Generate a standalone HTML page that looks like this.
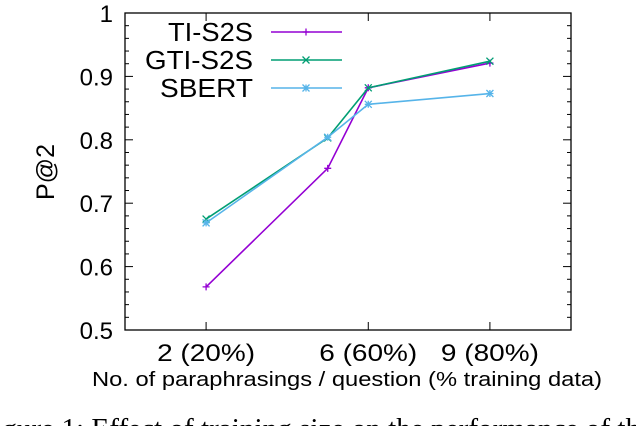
<!DOCTYPE html>
<html><head><meta charset="utf-8"><style>
body{margin:0;background:#fff;width:636px;height:426px;overflow:hidden}
svg{font-family:"Liberation Sans",sans-serif}
</style></head><body>
<svg id="chart" width="636" height="426">
<g id="grid"></g>
<rect x="125" y="13" width="446" height="317" fill="none" stroke="#000" stroke-width="1.3"/>
<text transform="translate(54,172) rotate(-90)" text-anchor="middle" font-size="25" textLength="56" lengthAdjust="spacingAndGlyphs">P@2</text>
<text x="92" y="386" font-size="20" textLength="510" lengthAdjust="spacingAndGlyphs">No. of paraphrasings / question (% training data)</text>
<text x="-22" y="438" font-size="29" font-family="Liberation Serif,serif" textLength="675" lengthAdjust="spacingAndGlyphs">Figure 1:  Effect of training size on the performance of the</text>
<g id="legend"></g>
<g id="series"></g>
</svg>
<script>
const xValues=[2,5,6,9];
const xTickValues=[2,6,9];
const xTickLabels=["2 (20%)","6 (60%)","9 (80%)"];
const yTickValues=[0.5,0.6,0.7,0.8,0.9,1];
const yTickLabels=["0.5","0.6","0.7","0.8","0.9","1"];
const seriesNames=["TI-S2S","GTI-S2S","SBERT"];
const tiS2S=[0.568,0.755,0.882,0.921];
const gtiS2S=[0.675,0.803,0.882,0.924];
const sbert=[0.669,0.804,0.856,0.873];
const NS="http://www.w3.org/2000/svg";
const L=125,R=571,T=13,B=330;
const xs=v=>L+(v-0)/(11-0)*(R-L);
const ys=v=>B-(v-0.5)/(0.5)*(B-T);
function mk(t,a,p){const e=document.createElementNS(NS,t);for(const k in a)e.setAttribute(k,a[k]);(p||document.getElementById('chart')).appendChild(e);return e;}
const grid=document.getElementById('grid');
for(let i=0;i<=25;i++){const v=0.5+i*0.02;const y=ys(v);const major=Math.abs((v*10)-Math.round(v*10))<1e-6;const len=major?8:4;
 const a=mk('line',{x1:L,x2:L+len,y1:y,y2:y,stroke:'#000'},grid);
 const b=mk('line',{x1:R,x2:R-len,y1:y,y2:y,stroke:'#000'},grid);}
yTickValues.forEach((v,i)=>{const t=mk('text',{x:113,y:ys(v)+9,'text-anchor':'end','font-size':24},grid);t.textContent=yTickLabels[i];});
xTickValues.forEach((v,i)=>{const x=xs(v);
 const a=mk('line',{x1:x,x2:x,y1:B,y2:B-8,stroke:'#000'},grid);
 const b=mk('line',{x1:x,x2:x,y1:T,y2:T+8,stroke:'#000'},grid);
 const t=mk('text',{x:x,y:361,'text-anchor':'middle','font-size':24,textLength:98,lengthAdjust:'spacingAndGlyphs'},grid);t.textContent=xTickLabels[i];});
const colors=["#9400d3","#009e73","#56b4e9"];
const data=[tiS2S,gtiS2S,sbert];
const legendW=[85,108,93];
const sg=document.getElementById('series'),lg=document.getElementById('legend');
function marker(k,x,y,c,p){const s=3.5;
 if(k===0){mk('path',{d:`M${x-s} ${y}H${x+s}M${x} ${y-s}V${y+s}`,stroke:c,'stroke-width':1.3},p);}
 else if(k===1){mk('path',{d:`M${x-s} ${y-s}L${x+s} ${y+s}M${x-s} ${y+s}L${x+s} ${y-s}`,stroke:c,'stroke-width':1.3},p);}
 else{mk('path',{d:`M${x-s} ${y-s}L${x+s} ${y+s}M${x-s} ${y+s}L${x+s} ${y-s}M${x-s} ${y}H${x+s}M${x} ${y-s}V${y+s}`,stroke:c,'stroke-width':1.3},p);}}
data.forEach((vals,k)=>{const c=colors[k];
 const pl=mk('polyline',{points:vals.map((v,i)=>xs(xValues[i])+','+ys(v)).join(' '),fill:'none',stroke:c,'stroke-width':1.6},sg);
 
 vals.forEach((v,i)=>marker(k,xs(xValues[i]),ys(v),c,sg));
 const ly=32+k*28;
 const t=mk('text',{x:253-legendW[k],y:ly+9,'font-size':26,textLength:legendW[k],lengthAdjust:'spacingAndGlyphs'},lg);t.textContent=seriesNames[k];
 const ln=mk('line',{x1:271,x2:342,y1:ly,y2:ly,stroke:c,'stroke-width':1.6},lg);
 marker(k,306,ly,c,lg);});
</script>
</body></html>
